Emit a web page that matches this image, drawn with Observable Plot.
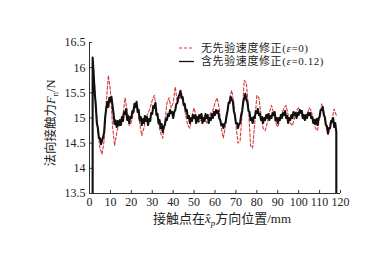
<!DOCTYPE html>
<html><head><meta charset="utf-8">
<script src="https://cdn.jsdelivr.net/npm/d3@7"></script>
<script src="https://cdn.jsdelivr.net/npm/@observablehq/plot@0.6"></script>
<style>body{margin:0;background:#fff}</style>
</head><body><div id="chart"></div>
<script>
const seriesNames = ["无先验速度修正(ε=0)", "含先验速度修正(ε=0.12)"];
const xTicks = [0,10,20,30,40,50,60,70,80,90,100,110,120];
const yTicks = [13.5,14,14.5,15,15.5,16,16.5];
const baseline = 13.5;

// red dashed: no prior velocity correction, x = 2..118 mm step 1
const redX0 = 2, redStep = 1;
const redF = [
 15.95,15.3,14.75,14.4,14.28,14.55,15.3,15.85,15.55,
 14.85,14.45,14.7,14.9,14.92,15.05,15.4,15.15,14.85,14.92,
 15.1,15.25,15.2,14.9,14.65,14.8,15.0,15.1,15.2,15.35,
 15.45,15.2,14.9,14.7,14.6,14.9,15.3,15.4,15.2,15.3,
 15.62,15.3,15.4,15.5,15.3,15.05,14.85,14.8,15.05,15.2,
 15.05,14.9,14.95,15.05,15.0,14.9,15.0,15.1,15.15,15.3,
 15.4,15.2,14.8,14.6,14.85,15.15,15.4,15.55,15.3,14.85,
 14.5,14.55,15.1,15.75,15.7,15.2,14.45,14.4,14.9,15.45,
 15.4,15.05,14.8,14.75,14.9,15.1,15.25,15.1,14.9,14.82,
 14.95,15.1,15.2,15.25,15.05,14.9,14.85,15.0,15.15,15.2,
 15.1,15.0,14.95,15.05,15.2,15.15,14.95,14.8,14.75,15.0,
 15.28,15.15,14.85,14.65,14.8,15.0,15.18,15.05
];

// black solid: with prior velocity correction, x = 1.5..118 mm step 0.5
const blackX0 = 1.5, blackStep = 0.5;
const blackF = [
 16.2,15.85,15.5,15.25,14.9,14.8,14.6,14.6,14.48,14.55,
 14.62,14.72,15.02,15.18,15.32,15.22,15.4,15.33,15.42,15.25,
 15.08,14.88,14.95,14.82,14.94,14.85,14.96,14.86,15.02,14.94,
 15.12,15.08,15.18,14.96,15.04,14.9,15.02,15.0,15.14,15.12,
 15.28,15.22,15.32,15.12,15.16,14.96,15.02,14.86,14.98,14.9,
 15.04,14.94,15.02,14.86,14.98,14.94,15.1,15.08,15.24,15.2,
 15.3,15.06,15.08,14.9,14.96,14.8,14.88,14.72,14.82,14.86,
 14.98,14.96,15.08,15.04,15.16,15.1,15.12,15.0,15.12,15.16,
 15.28,15.3,15.42,15.46,15.54,15.4,15.42,15.26,15.28,15.14,
 15.16,15.0,15.04,14.9,15.0,14.94,15.06,15.0,15.06,14.9,
 15.02,14.94,15.06,15.0,15.08,14.9,15.0,14.94,15.08,15.0,
 15.06,14.9,15.0,14.96,15.08,15.0,15.12,15.06,15.16,15.1,
 15.14,15.0,14.96,14.86,14.88,14.8,14.88,14.9,15.04,15.14,
 15.3,15.3,15.42,15.36,15.34,15.14,15.06,14.9,14.9,14.8,
 14.88,14.9,15.06,15.14,15.32,15.4,15.48,15.36,15.32,15.14,
 15.12,14.96,15.0,14.9,15.02,15.0,15.14,15.1,15.18,15.06,
 15.08,14.96,15.02,14.9,15.0,14.96,15.06,15.0,15.08,14.96,
 15.04,15.0,15.1,15.06,15.12,14.96,15.0,14.9,15.0,14.96,
 15.06,15.0,15.1,15.06,15.14,15.0,15.04,14.9,15.0,14.96,
 15.06,15.0,15.12,15.06,15.1,15.0,15.1,15.06,15.16,15.1,
 15.14,15.0,15.06,14.96,15.06,15.0,15.1,15.06,15.1,15.0,
 15.02,14.9,14.96,14.88,14.98,14.86,15.0,15.02,15.16,15.16,
 15.22,15.06,15.02,14.86,14.84,14.7,14.8,14.8,14.94,14.92,
 15.0,14.82,14.9,14.72
];

const red = redF.map((f, i) => ({x: redX0 + i * redStep, f}));
const blackEnd = blackX0 + (blackF.length - 1) * blackStep;
const black = [{x: blackX0, f: baseline}]
  .concat(blackF.map((f, i) => ({x: blackX0 + i * blackStep, f})))
  .concat([{x: blackEnd, f: baseline}]);

const FONT = "'Liberation Serif','Noto Sans CJK SC',serif";
const CJK = "'Liberation Serif','Noto Sans CJK SC',sans-serif";

const plot = Plot.plot({
  width: 377, height: 254,
  marginLeft: 89, marginRight: 37, marginTop: 42, marginBottom: 61,
  style: {fontFamily: FONT, fontSize: "12px", color: "#222", background: "#fff", overflow: "visible"},
  x: {domain: [0, 120]},
  y: {domain: [13.5, 16.5]},
  marks: [
    Plot.axisX(xTicks, {tickSize: 0, tickPadding: 4, label: null, tickFormat: d => String(d)}),
    Plot.axisY(yTicks, {tickSize: 0, tickPadding: 4, label: null, tickFormat: d => String(d)}),
    Plot.ruleX(xTicks, {x: d => d, y1: 13.5, y2: 13.56, stroke: "#333", strokeWidth: 1}),
    Plot.ruleY(yTicks, {y: d => d, x1: 0, x2: 1.4, stroke: "#333", strokeWidth: 1}),
    Plot.ruleX([0], {stroke: "#333", strokeWidth: 1}),
    Plot.ruleY([13.5], {stroke: "#333", strokeWidth: 1}),
    Plot.line(red, {x: "x", y: "f", stroke: "#d93a3a", strokeWidth: 1.1, strokeDasharray: "3,2", clip: true}),
    Plot.line(black, {x: "x", y: "f", stroke: "#111", strokeWidth: 2.1, clip: true})
  ]
});

const svg = d3.select(plot);
// legend
const leg = svg.append("g").attr("font-family", CJK).attr("font-size", 11).attr("fill", "#222")
  .attr("text-anchor", "start").attr("letter-spacing", 0.6);
const legRows = [
  {name: seriesNames[0], stroke: "#d93a3a", dash: "3,2", y: 48},
  {name: seriesNames[1], stroke: "#111", dash: null, y: 61.5}
];
legRows.forEach(r => {
  leg.append("line").attr("x1", 179).attr("x2", 194).attr("y1", r.y).attr("y2", r.y)
    .attr("stroke", r.stroke).attr("stroke-width", r.dash ? 1.1 : 1.3)
    .attr("stroke-dasharray", r.dash);
  const t = leg.append("text").attr("x", 201).attr("y", r.y).attr("dy", "0.35em").attr("text-anchor", "start");
  const m = r.name.match(/^(.*)\((ε)(.*)\)$/);
  t.append("tspan").text(m[1] + "(");
  t.append("tspan").attr("font-style", "italic").text(m[2]);
  t.append("tspan").text(m[3] + ")");
});

// x axis label
const xl = svg.append("text").attr("x", 222).attr("y", 223).attr("text-anchor", "middle")
  .attr("font-family", CJK).attr("font-size", 13).attr("fill", "#222");
xl.append("tspan").text("接触点在");
xl.append("tspan").attr("font-style", "italic").attr("font-family", "'Liberation Serif',serif").text("x\u0302");
xl.append("tspan").attr("font-style", "italic").attr("font-size", 9).attr("dy", 3).text("p");
xl.append("tspan").attr("dy", -3).text("方向位置/mm");

// y axis label
const yl = svg.append("text").attr("transform", "translate(55,123) rotate(-90)").attr("text-anchor", "middle")
  .attr("font-family", CJK).attr("font-size", 12.5).attr("fill", "#222");
yl.append("tspan").text("法向接触力");
yl.append("tspan").attr("font-style", "italic").attr("font-family", "'Liberation Serif',serif").text("F");
yl.append("tspan").attr("font-size", 9).attr("dy", 3).text("n");
yl.append("tspan").attr("dy", -3).text("/N");

document.getElementById("chart").appendChild(plot);
</script>
</body></html>
